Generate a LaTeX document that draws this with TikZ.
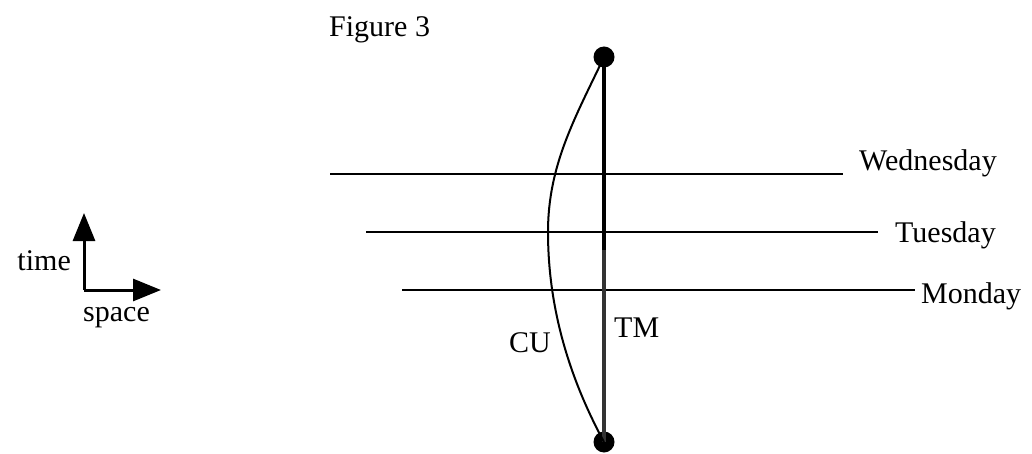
\documentclass[tikz,border=0pt]{standalone}
\usepackage{fontspec}
\setmainfont{Liberation Serif}
\usetikzlibrary{arrows.meta}
\begin{document}
\begin{tikzpicture}[x=1pt,y=-1pt,
  lbl/.style={inner sep=0pt,font=\fontsize{30}{30}\selectfont},
  dot/.style={circle,fill=black,inner sep=0pt,minimum size=21pt},
  day/.style={line width=2pt},
  axis/.style={line width=3pt,-{Triangle[length=28pt,width=22pt]}}]
\useasboundingbox (0,0) rectangle (1032,454);
% figure title
\node[lbl,anchor=base west] (fig) at (329,37) {Figure 3};
% axes
\coordinate (o) at (84,290);
\coordinate (tup) at (84,213);
\coordinate (sr) at (161,290);
\draw[axis] (o) -- (tup);
\draw[axis] (o) -- (sr);
\node[lbl,anchor=base east] (time) at (71,270) {time};
\node[lbl,anchor=base west] (space) at (83,321) {space};
% day lines
\coordinate (w1) at (330,174); \coordinate (w2) at (843,174);
\coordinate (t1) at (366,232); \coordinate (t2) at (878,232);
\coordinate (m1) at (402,290); \coordinate (m2) at (915,290);
\draw[day] (w1) -- (w2);
\draw[day] (t1) -- (t2);
\draw[day] (m1) -- (m2);
\node[lbl,anchor=base west] (wed) at (859,171) {Wednesday};
\node[lbl,anchor=base west] (tue) at (895,243) {Tuesday};
\node[lbl,anchor=base west] (mon) at (921,303) {Monday};
% events
\node[dot] (top) at (604,57) {};
\node[dot] (bot) at (604,442) {};
\coordinate (mid) at (604,250);
\draw[line width=4.5pt] (top.center) -- (mid);
\draw[line width=4pt,black!80] (mid) -- (bot.center);
% CU curve
\coordinate (cl) at (548,232);
\draw[line width=2pt] (top.center) .. controls (575,118) and (548,165) .. (cl)
  .. controls (548,300) and (565,370) .. (bot.center);
\node[lbl,anchor=base west] (cu) at (509,352) {CU};
\node[lbl,anchor=base west] (tm) at (614,337) {TM};
\end{tikzpicture}
\end{document}
